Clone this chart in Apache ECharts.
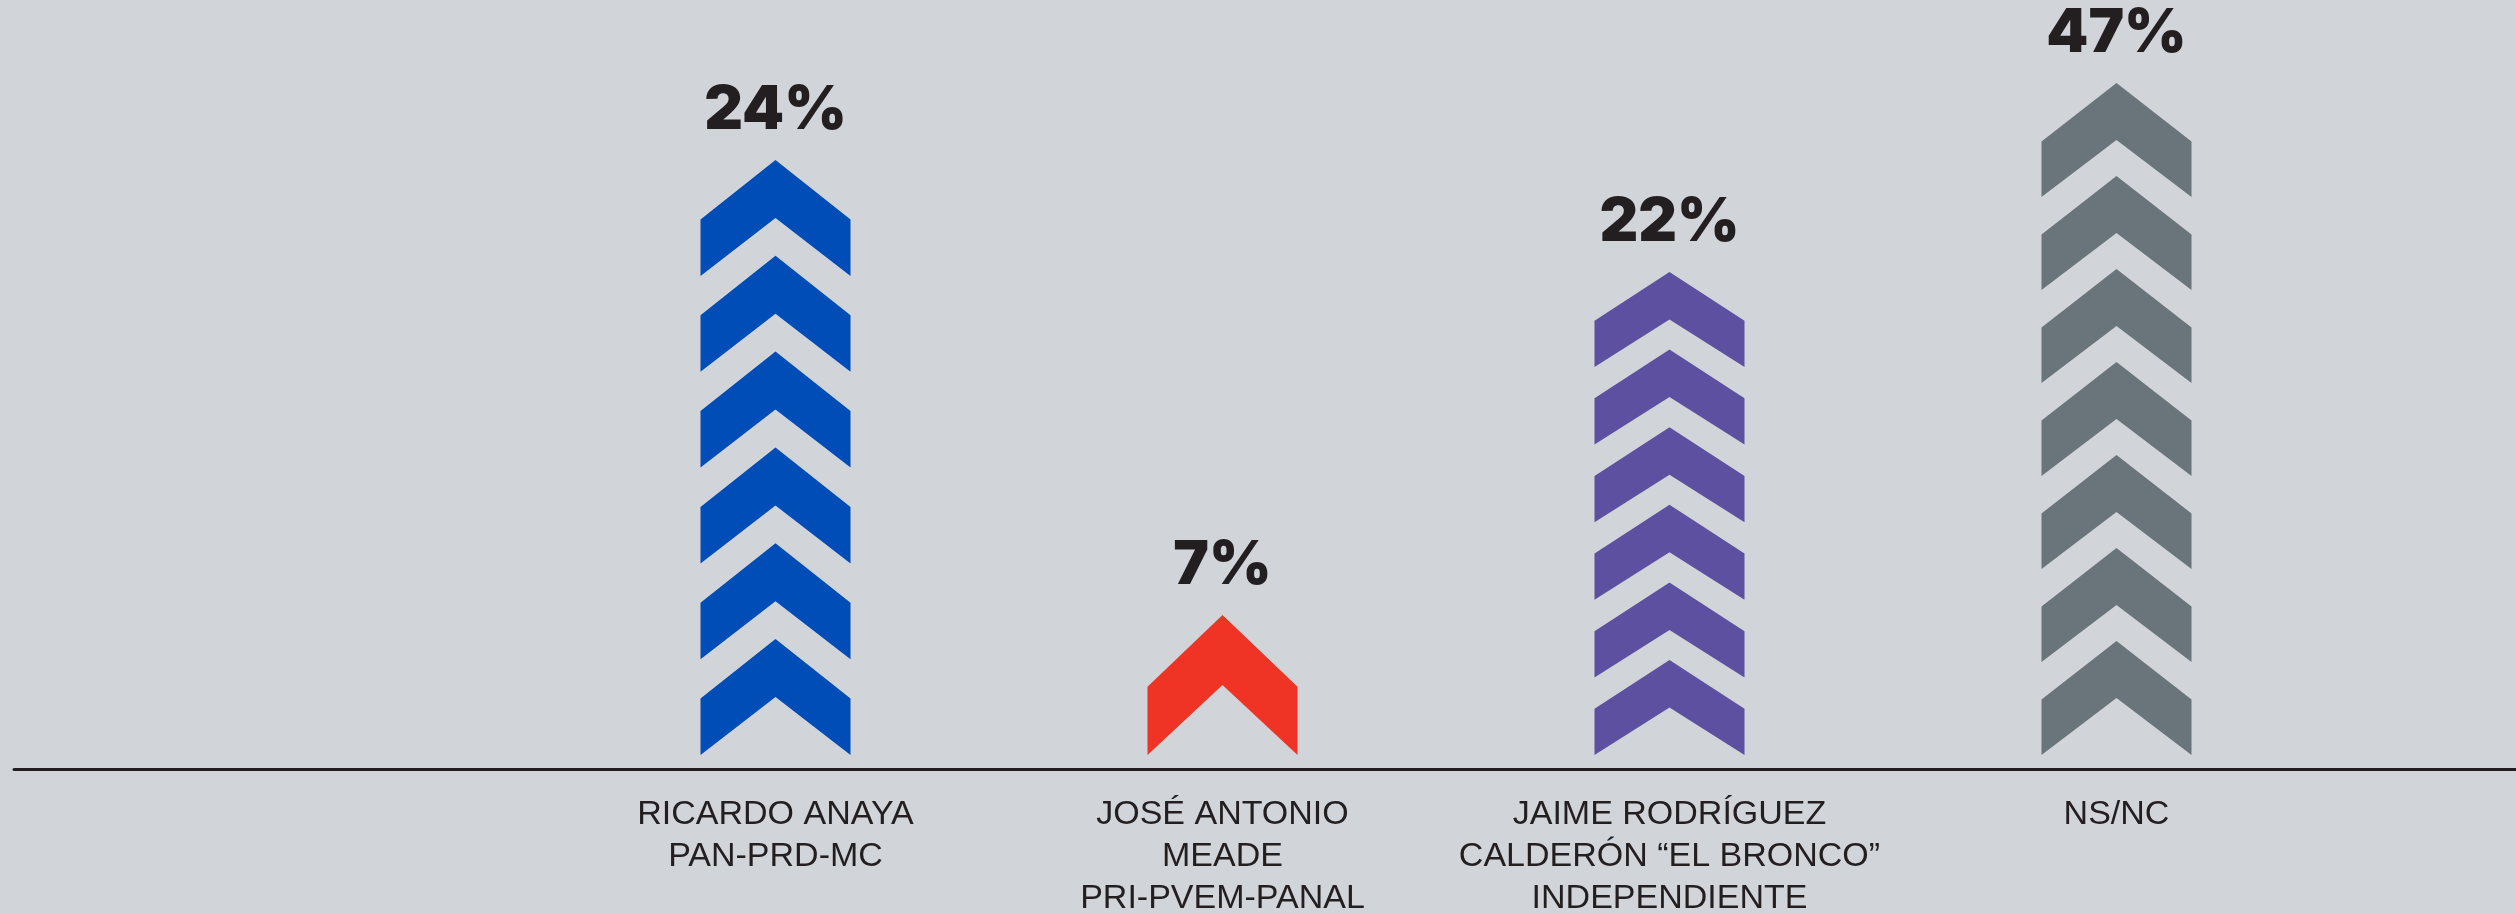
<!DOCTYPE html>
<html>
<head>
<meta charset="utf-8">
<title>Encuesta</title>
<script src="https://cdn.jsdelivr.net/npm/echarts@6/dist/echarts.min.js"></script>
<style>
  html, body { margin: 0; padding: 0; background: #d1d4d8; }
  #chart { width: 2516px; height: 914px; }
</style>
</head>
<body>
<div id="chart"></div>
<script>
// categories (candidate + coalition)
const candidates = [
  'RICARDO ANAYA\nPAN-PRD-MC',
  'JOSÉ ANTONIO\nMEADE\nPRI-PVEM-PANAL',
  'JAIME RODRÍGUEZ\nCALDERÓN “EL BRONCO”\nINDEPENDIENTE',
  'NS/NC'
];
// percentages printed above each column
const percents = [24, 7, 22, 47];
// how many chevrons are stacked in each column
const chevronCounts = [6, 1, 6, 7];
// column height as drawn in the graphic (0-100)
const arrowLevels = [85, 20, 69, 96];

const colors = ['#004db7', '#ef3324', '#5e50a0', '#6a757b'];
const chevronHeights = [116, 140, 95, 114];
const chevron = 'path://M0,513 L500,0 L1000,513 L1000,1000 L500,500 L0,1000 Z';
const ink = '#231f20';

const chart = echarts.init(document.getElementById('chart'));

chart.setOption({
  backgroundColor: '#d1d4d8',
  animation: false,
  grid: [
    { left: 552, right: 176, top: 55, bottom: 159, outerBoundsMode: 'none' },
    // thin grid only used for the base line
    { left: 14, right: 0, top: 768, bottom: 145, outerBoundsMode: 'none' }
  ],
  xAxis: [
    {
      type: 'category',
      gridIndex: 0,
      data: candidates,
      axisLine: { show: false },
      axisTick: { show: false },
      axisLabel: {
        interval: 0,
        margin: 39,
        color: ink,
        fontFamily: '"Liberation Sans", Arial, sans-serif',
        fontSize: 34,
        lineHeight: 42,
        align: 'center'
      }
    },
    {
      type: 'value',
      gridIndex: 1,
      min: 0,
      max: 1,
      axisLine: { show: true, lineStyle: { color: ink, width: 3 } },
      axisTick: { show: false },
      axisLabel: { show: false },
      splitLine: { show: false }
    }
  ],
  yAxis: [
    { type: 'value', gridIndex: 0, min: 0, max: 100, show: false },
    { type: 'value', gridIndex: 1, show: false }
  ],
  series: [
    {
      type: 'pictorialBar',
      xAxisIndex: 0,
      yAxisIndex: 0,
      symbol: chevron,
      symbolKeepAspect: false,
      barCategoryGap: '0%',
      label: {
        show: true,
        position: 'top',
        distance: 19,
        color: ink,
        fontFamily: 'Inter, Roboto, sans-serif',
        fontWeight: 900,
        fontSize: 60,
        lineHeight: 60,
        formatter: p => percents[p.dataIndex] + '%'
      },
      data: arrowLevels.map((v, i) => ({
        value: v,
        symbolBoundingData: v,
        symbolRepeat: chevronCounts[i],
        symbolSize: [150, chevronHeights[i]],
        itemStyle: { color: colors[i] }
      }))
    }
  ]
});
</script>
</body>
</html>
